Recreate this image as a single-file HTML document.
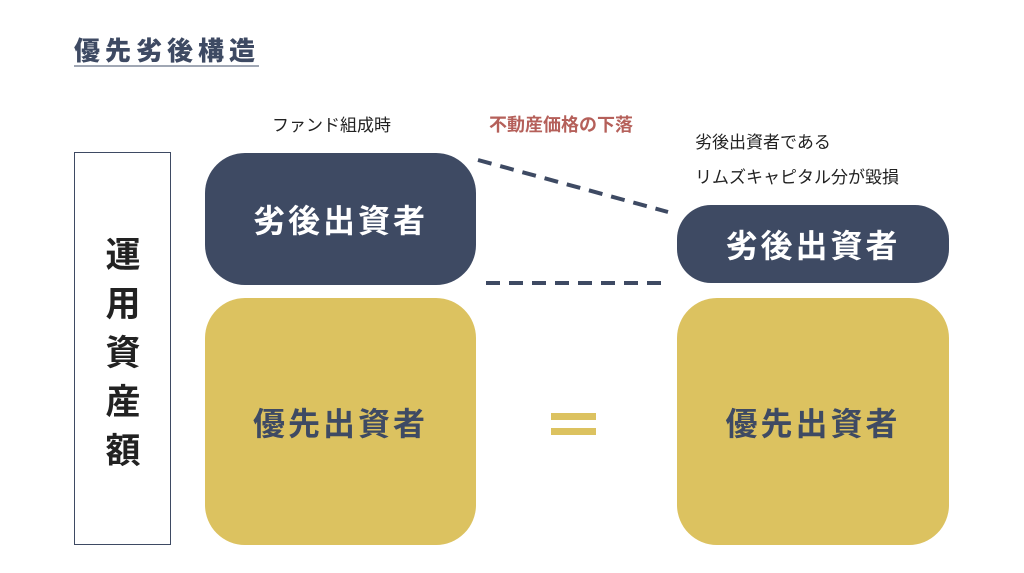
<!DOCTYPE html>
<html><head><meta charset="utf-8"><style>
body{margin:0;width:1024px;height:573px;background:#fff;position:relative;overflow:hidden;font-family:"Liberation Sans","Noto Sans CJK JP",sans-serif;}
.a{position:absolute;}
.t{white-space:nowrap;}
.box{position:absolute;display:flex;align-items:center;justify-content:center;font-weight:bold;letter-spacing:3px;}
</style></head><body>
<div class="a t" style="left:74px;top:31px;font-size:26px;font-weight:900;color:#3e4a63;letter-spacing:5px;">優先劣後構造</div>
<div class="a" style="left:74px;top:65px;width:185px;height:2px;background:#a0a7b4;"></div>
<div class="a t" style="left:272px;top:111px;font-size:17px;color:#222;">ファンド組成時</div>
<div class="a t" style="left:489px;top:111px;font-size:18px;font-weight:bold;color:#b5605a;">不動産価格の下落</div>
<div class="a t" style="left:695px;top:128px;font-size:17px;color:#222;">劣後出資者である</div>
<div class="a t" style="left:695px;top:163px;font-size:17px;color:#222;">リムズキャピタル分が毀損</div>
<div class="a" style="left:74px;top:152px;width:95px;height:391px;border:1.5px solid #3e4a63;"></div>
<div class="a" style="left:100px;top:231px;width:46px;font-size:35px;font-weight:bold;color:#222;line-height:49px;text-align:center;">運<br>用<br>資<br>産<br>額</div>
<div class="box" style="left:205px;top:153px;width:271px;height:132px;border-radius:40px;background:#3e4a63;color:#fff;font-size:32px;">劣後出資者</div>
<div class="box" style="left:205px;top:298px;width:271px;height:247px;border-radius:40px;background:#dcc260;color:#3e4a63;font-size:32px;">優先出資者</div>
<div class="box" style="left:677px;top:205px;width:272px;height:78px;border-radius:34px;background:#3e4a63;color:#fff;font-size:32px;">劣後出資者</div>
<div class="box" style="left:677px;top:298px;width:272px;height:247px;border-radius:40px;background:#dcc260;color:#3e4a63;font-size:32px;">優先出資者</div>
<div class="a" style="left:551px;top:413px;width:45px;height:7px;background:#dcc260;"></div>
<div class="a" style="left:551px;top:428px;width:45px;height:7px;background:#dcc260;"></div>
<svg class="a" style="left:0;top:0" width="1024" height="573">
<line x1="478" y1="160" x2="668" y2="212" stroke="#3e4a63" stroke-width="4" stroke-dasharray="14,9"/>
<line x1="486" y1="283" x2="662" y2="283" stroke="#3e4a63" stroke-width="4" stroke-dasharray="14,9"/>
</svg>
</body></html>
